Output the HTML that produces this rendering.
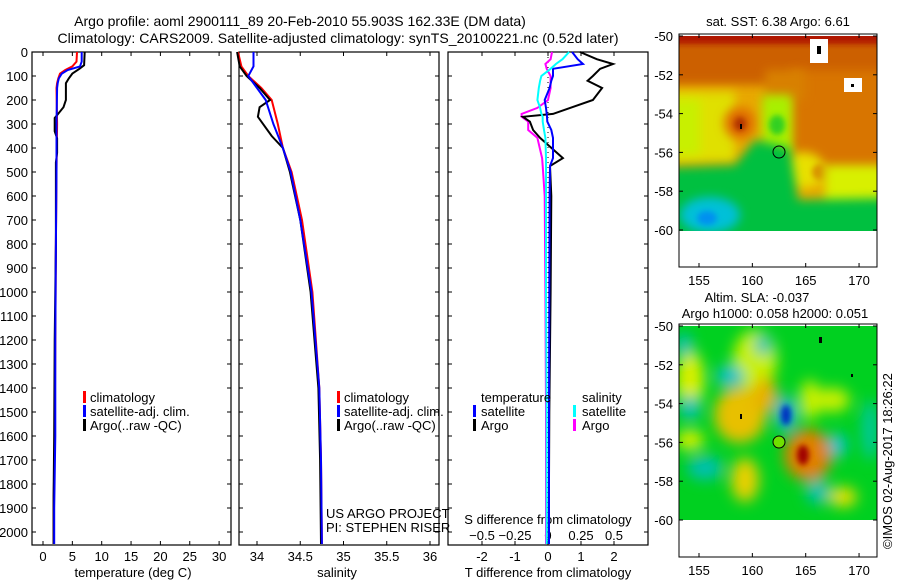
<!DOCTYPE html>
<html><head><meta charset="utf-8">
<style>
html,body{margin:0;padding:0;background:#fff;}
svg{display:block;font-family:"Liberation Sans",sans-serif;}
text{font-size:13px;fill:#000;}
</style></head>
<body>
<svg id="fig" width="900" height="580" viewBox="0 0 900 580">
<defs>
<filter id="bl" x="-50%" y="-50%" width="200%" height="200%"><feGaussianBlur stdDeviation="7"/></filter>
<filter id="bl5" x="-50%" y="-50%" width="200%" height="200%"><feGaussianBlur stdDeviation="5"/></filter>
<filter id="bl2" x="-50%" y="-50%" width="200%" height="200%"><feGaussianBlur stdDeviation="3"/></filter>
<clipPath id="c1"><rect x="679" y="36" width="198" height="195"/></clipPath>
<clipPath id="c2"><rect x="679" y="326" width="198" height="194"/></clipPath>
</defs>
<text x="300" y="26" text-anchor="middle" style="font-size:14px">Argo profile: aoml 2900111_89 20-Feb-2010 55.903S 162.33E (DM data)</text>
<text x="338" y="43" text-anchor="middle" style="font-size:14px" textLength="561">Climatology: CARS2009. Satellite-adjusted climatology: synTS_20100221.nc (0.52d later)</text>

<!-- SST map -->
<g>
<text x="778" y="26" text-anchor="middle">sat. SST: 6.38 Argo: 6.61</text>
<g clip-path="url(#c1)">
<rect x="679" y="36" width="198" height="195" fill="#e8a800"/>
<rect x="660" y="20" width="240" height="65" fill="#cc6000" filter="url(#bl5)"/>
<rect x="790" y="70" width="110" height="105" fill="#d87400" filter="url(#bl5)"/>
<rect x="765" y="70" width="40" height="30" fill="#d88000" filter="url(#bl5)"/>
<rect x="660" y="92" width="75" height="70" fill="#e0e000" filter="url(#bl5)"/>
<rect x="660" y="100" width="40" height="55" fill="#c8f000" filter="url(#bl5)"/>
<ellipse cx="740" cy="123" rx="16" ry="16" fill="#e07000" filter="url(#bl5)"/>
<ellipse cx="740" cy="124" rx="6" ry="7" fill="#b03000" filter="url(#bl2)"/>
<rect x="762" y="95" width="30" height="60" fill="#a8f000" filter="url(#bl5)"/>
<ellipse cx="777" cy="125" rx="8" ry="10" fill="#30d020" filter="url(#bl2)"/>
<ellipse cx="803" cy="170" rx="22" ry="18" fill="#e8e000" filter="url(#bl5)"/>
<ellipse cx="820" cy="172" rx="8" ry="8" fill="#d89000" filter="url(#bl2)"/>
<rect x="825" y="165" width="70" height="45" fill="#d8f000" filter="url(#bl5)"/>
<polygon points="660,168 735,165 755,140 790,148 798,200 900,198 900,245 660,245" fill="#00c040" filter="url(#bl5)"/>
<ellipse cx="710" cy="215" rx="30" ry="18" fill="#00c0d8" filter="url(#bl5)"/>
<ellipse cx="707" cy="218" rx="10" ry="7" fill="#0090f0" filter="url(#bl2)"/>
<rect x="660" y="22" width="240" height="22" fill="#b01800" filter="url(#bl2)"/>
<rect x="810" y="39" width="18" height="24" fill="#fff"/>
<rect x="844" y="78" width="18" height="14" fill="#fff"/>
<rect x="817" y="46" width="4" height="8" fill="#000"/>
<rect x="851" y="84" width="3" height="3" fill="#000"/>
<rect x="740" y="124" width="2" height="5" fill="#000"/>
<circle cx="779" cy="152" r="6" fill="none" stroke="#000" stroke-width="1"/>
</g>
<rect x="679" y="34" width="198" height="233" fill="none" stroke="#000"/>
</g>

<!-- SLA map -->
<g>
<text x="757" y="302" text-anchor="middle">Altim. SLA: -0.037</text>
<text x="775" y="318" text-anchor="middle">Argo h1000: 0.058 h2000: 0.051</text>
<g clip-path="url(#c2)">
<rect x="679" y="326" width="198" height="194" fill="#00d020"/>
<g filter="url(#bl)">
<ellipse cx="755" cy="360" rx="22" ry="30" fill="#c8f000"/>
<ellipse cx="740" cy="415" rx="26" ry="28" fill="#e8c000"/>
<ellipse cx="765" cy="395" rx="12" ry="18" fill="#e8b000"/>
<ellipse cx="690" cy="380" rx="14" ry="30" fill="#d8f000"/>
<ellipse cx="808" cy="455" rx="24" ry="26" fill="#e08000"/>
<ellipse cx="745" cy="480" rx="14" ry="22" fill="#e8d000"/>
<ellipse cx="832" cy="400" rx="18" ry="12" fill="#c8f000"/>
<ellipse cx="843" cy="497" rx="14" ry="10" fill="#e8e000"/>
<ellipse cx="690" cy="440" rx="14" ry="10" fill="#d8f000"/>
<ellipse cx="810" cy="400" rx="10" ry="20" fill="#c8f000"/>
<ellipse cx="730" cy="376" rx="14" ry="10" fill="#00c0d0"/>
<ellipse cx="786" cy="414" rx="10" ry="18" fill="#00b0e0"/>
<ellipse cx="690" cy="408" rx="10" ry="12" fill="#00c0c0"/>
<ellipse cx="684" cy="345" rx="8" ry="12" fill="#00c0c0"/>
<ellipse cx="763" cy="345" rx="8" ry="10" fill="#00c0c0"/>
<ellipse cx="838" cy="445" rx="9" ry="12" fill="#00c0d0"/>
<ellipse cx="705" cy="468" rx="18" ry="12" fill="#00c0b0"/>
<ellipse cx="818" cy="492" rx="12" ry="12" fill="#00c0b0"/>
<ellipse cx="870" cy="430" rx="8" ry="30" fill="#00c8a0"/>
</g>
<ellipse cx="786" cy="415" rx="5" ry="10" fill="#0030c0" filter="url(#bl2)"/>
<ellipse cx="803" cy="455" rx="6" ry="10" fill="#a00000" filter="url(#bl2)"/>
<rect x="819" y="337" width="3" height="6" fill="#000"/>
<rect x="851" y="374" width="2" height="3" fill="#000"/>
<rect x="740" y="414" width="2" height="5" fill="#000"/>
<circle cx="779" cy="442" r="6" fill="#70e000" stroke="#000" stroke-width="1"/>
</g>
<rect x="679" y="324" width="198" height="233" fill="none" stroke="#000"/>
</g>
<text transform="translate(892,549) rotate(-90)">©IMOS 02-Aug-2017 18:26:22</text>

<g id="plots"></g>
</svg>
<script>
// ---- data ----
const tDepth = [0,40,60,75,90,110,130,150,300,500,800,1200,1600,1900,2050];
const tClim  = [5.8,5.7,5.0,3.8,2.9,2.6,2.4,2.3,2.4,2.3,2.2,2.1,2.0,1.8,1.8];
const tSat   = [6.6,6.6,6.3,4.2,3.2,2.7,2.5,2.4,2.3,2.3,2.2,2.1,2.1,1.9,1.9];
const tArgoDepth = [0,55,70,90,110,130,200,230,260,275,330,360,420,460,500,800,1200,1600,1850,2050];
const tArgo  = [7.1,7.0,6.2,5.0,4.4,3.9,3.9,3.5,2.5,2.0,2.0,2.4,2.4,2.2,2.2,2.2,2.0,1.9,1.8,1.8];

const sDepth = [0,60,100,150,200,300,400,500,700,1000,1400,1700,2050];
const sClim  = [33.78,33.82,33.9,34.05,34.17,34.24,34.3,34.4,34.52,34.64,34.72,34.74,34.75];
const sSat   = [33.96,33.96,33.9,34.0,34.1,34.19,34.3,34.39,34.5,34.63,34.72,34.74,34.75];
const sArgoDepth = [0,60,100,150,200,230,270,350,400,500,700,1000,1400,1700,2050];
const sArgo  = [33.77,33.8,33.88,34.03,34.15,34.03,34.01,34.17,34.3,34.38,34.5,34.62,34.71,34.73,34.74];

const dDepth = [0,30,50,70,100,120,150,200,233,258,270,290,325,358,442,475,600,1000,1500,2050];
const dTArgo = [0.97,1.48,1.97,1.58,1.36,1.2,1.64,1.36,0.67,0.15,-0.76,-0.55,-0.45,-0.24,0.45,0.06,0.1,0.08,0.04,0.02];
const dTSat  = [0.73,0.9,1.06,0.15,0.15,0.1,0.05,-0.1,-0.06,-0.04,-0.03,-0.02,0.1,0.15,0.15,0.06,0.05,0.04,0.03,0.03];
const dSSat  = [0.16,0.11,0.06,0.02,-0.05,-0.06,-0.07,-0.08,-0.06,-0.05,-0.04,-0.04,-0.03,-0.02,-0.015,-0.015,-0.015,-0.015,-0.01,-0.01];
const dSArgo = [0.03,0.02,-0.02,-0.01,0.02,0.02,0.02,0.0,-0.08,-0.2,-0.2,-0.15,-0.15,-0.08,-0.045,-0.04,-0.025,-0.02,-0.015,-0.015];

const depthTicks = [0,100,200,300,400,500,600,700,800,900,1000,1100,1200,1300,1400,1500,1600,1700,1800,1900,2000];
const tTicks = [0,5,10,15,20,25,30];
const sTicks = [34,34.5,35,35.5,36];
const dTTicks = [-2,-1,0,1,2];
const dSTicks = [-0.5,-0.25,0,0.25,0.5];

// ---- scales ----
const Y = d => 52 + d*0.24;
const tX = t => 43 + t*5.87;
const sX = s => 257 + (s-34)*86.5;
const dTX = v => 548 + v*33;
const dSX = v => 548 + v*132;

const NS='http://www.w3.org/2000/svg';
const root=document.getElementById('plots');
function mk(tag,attrs,parent){const e=document.createElementNS(NS,tag);for(const k in attrs)e.setAttribute(k,attrs[k]);(parent||root).appendChild(e);return e;}
function line(depths,vals,xf,color,w,name){
  let pts=[];
  for(let i=0;i<depths.length;i++){pts.push(xf(vals[i]).toFixed(1)+','+Y(depths[i]).toFixed(1));}
  const p=mk('polyline',{points:pts.join(' '),fill:'none',stroke:color,'stroke-width':w});
  
  
}
function frame(x0,x1,name){
  const r=mk('rect',{x:x0,y:52,width:x1-x0,height:493,fill:'none',stroke:'#000','stroke-width':1.2});
  
  
  depthTicks.forEach(d=>{mk('line',{x1:x0,x2:x0+4,y1:Y(d),y2:Y(d),stroke:'#000'});mk('line',{x1:x1,x2:x1-4,y1:Y(d),y2:Y(d),stroke:'#000'});});
}
function xticks(ticks,xf,labels,ly,name){
  ticks.forEach((t,i)=>{
    mk('line',{x1:xf(t),x2:xf(t),y1:545,y2:541,stroke:'#000'});
    mk('line',{x1:xf(t),x2:xf(t),y1:52,y2:56,stroke:'#000'});
    const tx=mk('text',{x:xf(t),y:ly,'text-anchor':'middle'});tx.textContent=labels?labels[i]:String(t);
    
    
  });
}
function txt(x,y,s,name,anchor){const t=mk('text',{x:x,y:y,'text-anchor':anchor||'start'});t.textContent=s;
  
  return t;}
function legendMark(x,y,c){const r=mk('rect',{x:x,y:y-11,width:3,height:12,fill:c});
  
  }

depthTicks.forEach(d=>{txt(28,Y(d)+5,String(d),'y-tick-label','end');});

// Panel 1 temperature
frame(32,231,'temperature-panel');
xticks(tTicks,tX,null,561,'temperature-tick-label');
txt(133,577,'temperature (deg C)','x-axis-title-temperature','middle');
line(tDepth,tClim,tX,'#ff0000',2,'temperature-climatology-line');
line(tArgoDepth,tArgo,tX,'#000000',2,'temperature-argo-line');
line(tDepth,tSat,tX,'#0000ff',2,'temperature-satellite-line');
legendMark(83,402,'#ff0000');txt(90,402,'climatology','legend-climatology');
legendMark(83,416,'#0000ff');txt(90,416,'satellite-adj. clim.','legend-satellite');
legendMark(83,430,'#000');txt(90,430,'Argo(..raw -QC)','legend-argo');

// Panel 2 salinity
frame(239,439,'salinity-panel');
xticks(sTicks,sX,null,561,'salinity-tick-label');
txt(337,577,'salinity','x-axis-title-salinity','middle');
line(sDepth,sClim,sX,'#ff0000',2,'salinity-climatology-line');
line(sArgoDepth,sArgo,sX,'#000000',2,'salinity-argo-line');
line(sDepth,sSat,sX,'#0000ff',2,'salinity-satellite-line');
legendMark(337,402,'#ff0000');txt(344,402,'climatology','legend-climatology');
legendMark(337,416,'#0000ff');txt(344,416,'satellite-adj. clim.','legend-satellite');
legendMark(337,430,'#000');txt(344,430,'Argo(..raw -QC)','legend-argo');
txt(326,518,'US ARGO PROJECT','project-label');
txt(326,532,'PI: STEPHEN RISER','pi-label');

// Panel 3 differences
frame(448,648,'difference-panel');
xticks(dTTicks,dTX,null,561,'t-difference-tick-label');
dSTicks.forEach(v=>{txt(dSX(v),540,String(v).replace('-','\u2212'),'s-difference-tick-label','middle');});
txt(548,524,'S difference from climatology','s-difference-title','middle');
txt(548,577,'T difference from climatology','t-difference-title','middle');
mk('line',{x1:dTX(0),x2:dTX(0),y1:52,y2:545,stroke:'#000','stroke-dasharray':'1,4'});
line(dDepth,dSArgo,dSX,'#ff00ff',2,'salinity-argo-difference-line');
line(dDepth,dTArgo,dTX,'#000000',2,'temperature-argo-difference-line');
line(dDepth,dTSat,dTX,'#0000ff',2,'temperature-satellite-difference-line');
line(dDepth,dSSat,dSX,'#00ffff',2,'salinity-satellite-difference-line');
txt(481,402,'temperature','legend-temperature-header');
txt(582,402,'salinity','legend-salinity-header');
legendMark(473,416,'#0000ff');txt(481,416,'satellite','legend-t-satellite');
legendMark(473,430,'#000');txt(481,430,'Argo','legend-t-argo');
legendMark(573,416,'#00ffff');txt(582,416,'satellite','legend-s-satellite');
legendMark(573,430,'#ff00ff');txt(582,430,'Argo','legend-s-argo');

// map axes
const lonTicks=[155,160,165,170];
const latTicks=[-50,-52,-54,-56,-58,-60];
const lonX=l=>699+(l-155)*10.67;
function mapAxes(top0,lat50,name){
  lonTicks.forEach(l=>{
    mk('line',{x1:lonX(l),x2:lonX(l),y1:top0,y2:top0+4,stroke:'#000'});
    mk('line',{x1:lonX(l),x2:lonX(l),y1:top0+233,y2:top0+229,stroke:'#000'});
    txt(lonX(l),top0+251,String(l),name+'-lon-label','middle');
  });
  latTicks.forEach(a=>{
    const y=lat50+(-50-a)*19.4;
    mk('line',{x1:679,x2:683,y1:y,y2:y,stroke:'#000'});
    mk('line',{x1:877,x2:873,y1:y,y2:y,stroke:'#000'});
    txt(673,y+5,String(a),name+'-lat-label','end');
  });
}
mapAxes(34,36,'sst-map');
mapAxes(324,326,'sla-map');
</script>
</body></html>
